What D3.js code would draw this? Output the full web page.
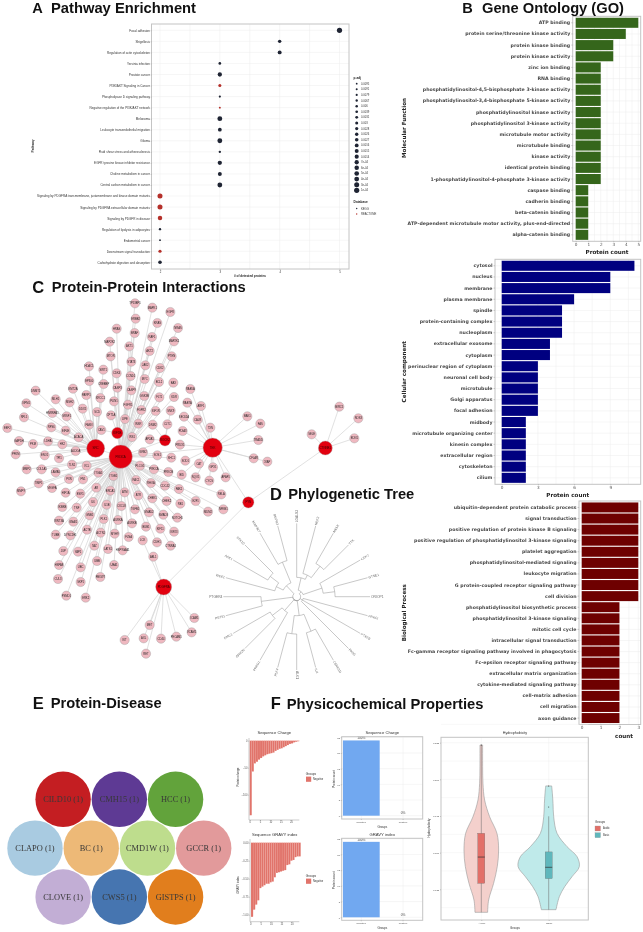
<!DOCTYPE html>
<html><head><meta charset="utf-8">
<script src="https://cdn.jsdelivr.net/npm/d3@7"></script>
<style>
html,body{margin:0;padding:0;background:#fff}
svg{display:block;filter:blur(0.3px);font-family:"Liberation Sans",Arial,sans-serif}
</style></head><body>
<svg id="c" width="643" height="932" xmlns="http://www.w3.org/2000/svg"></svg>
<script>
// ---------- A: pathway enrichment
const pathways=["Focal adhesion","Shigellosis","Regulation of actin cytoskeleton","Yersinia infection","Prostate cancer","PI3K/AKT Signaling in Cancer","Phospholipase D signaling pathway","Negative regulation of the PI3K/AKT network","Melanoma","Leukocyte transendothelial migration","Glioma","Fluid shear stress and atherosclerosis","EGFR tyrosine kinase inhibitor resistance","Choline metabolism in cancer","Central carbon metabolism in cancer","Signaling by PDGFRA transmembrane, juxtamembrane and kinase domain mutants","Signaling by PDGFRA extracellular domain mutants","Signaling by PDGFR in disease","Regulation of lipolysis in adipocytes","Endometrial cancer","Downstream signal transduction","Carbohydrate digestion and absorption"];
const pathwayCounts=[5,4,4,3,3,3,3,3,3,3,3,3,3,3,3,2,2,2,2,2,2,2];
const pathwayPadjRank=[19,9,12,5,14,7,2,1,17,11,17,3,14,12,17,18,18,15,3,0,8,10];
const pathwayDb=["KEGG","KEGG","KEGG","KEGG","KEGG","REACTOME","KEGG","REACTOME","KEGG","KEGG","KEGG","KEGG","KEGG","KEGG","KEGG","REACTOME","REACTOME","REACTOME","KEGG","KEGG","REACTOME","KEGG"];
const padjLegend=["0.0095","0.0091","0.0079","0.0067","0.006","0.0039","0.0031","0.003","0.0028","0.0026","0.0027","0.0016","0.0015","0.0014","7e-04","6e-04","5e-04","4e-04","3e-04","1e-04"];
const databases=["KEGG","REACTOME"];
const pathwayTicks=[2,3,4,5];
// ---------- B: gene ontology
const mfLabels=["ATP binding","protein serine/threonine kinase activity","protein kinase binding","protein kinase activity","zinc ion binding","RNA binding","phosphatidylinositol-4,5-bisphosphate 3-kinase activity","phosphatidylinositol-3,4-bisphosphate 5-kinase activity","phosphatidylinositol kinase activity","phosphatidylinositol 3-kinase activity","microtubule motor activity","microtubule binding","kinase activity","identical protein binding","1-phosphatidylinositol-4-phosphate 3-kinase activity","caspase binding","cadherin binding","beta-catenin binding","ATP-dependent microtubule motor activity, plus-end-directed","alpha-catenin binding"];
const mfValues=[5,4,3,3,2,2,2,2,2,2,2,2,2,2,2,1,1,1,1,1];
const ccLabels=["cytosol","nucleus","membrane","plasma membrane","spindle","protein-containing complex","nucleoplasm","extracellular exosome","cytoplasm","perinuclear region of cytoplasm","neuronal cell body","microtubule","Golgi apparatus","focal adhesion","midbody","microtubule organizing center","kinesin complex","extracellular region","cytoskeleton","cilium"];
const ccValues=[11,9,9,6,5,5,5,4,4,3,3,3,3,3,2,2,2,2,2,2];
const bpLabels=["ubiquitin-dependent protein catabolic process","signal transduction","positive regulation of protein kinase B signaling","positive regulation of phosphatidylinositol 3-kinase signaling","platelet aggregation","phosphatidylinositol-mediated signaling","leukocyte migration","G protein-coupled receptor signaling pathway","cell division","phosphatidylinositol biosynthetic process","phosphatidylinositol 3-kinase signaling","mitotic cell cycle","intracellular signal transduction","Fc-gamma receptor signaling pathway involved in phagocytosis","Fc-epsilon receptor signaling pathway","extracellular matrix organization","cytokine-mediated signaling pathway","cell-matrix adhesion","cell migration","axon guidance"];
const bpValues=[3,3,3,3,3,3,3,3,3,2,2,2,2,2,2,2,2,2,2,2];
// ---------- C: network (layout units of the drawing)
const hubNames=["PIK3CA","SRC","KIF5B","ROCK2","TEK","CTNNB1","FYN","PDGFRA"];
const hubLayout=[[362,560,35],[287,535,27],[352,489,17],[495,511,17],[638,533,29],[976,534,21],[745,697,17],[491,951,24]];
const hubLinks=[[0,1],[0,2],[0,3],[0,4],[4,6],[5,6],[6,7]];
const leaves0=[[405,100],[457,113],[511,126],[407,146],[472,159],[534,174],[350,176],[404,189],[456,201],[522,214],[329,215],[388,229],[449,243],[332,259],[515,259],[394,275],[436,286],[480,294],[350,310],[392,318],[434,327],[477,336],[520,338],[352,353],[394,361],[433,378],[478,382],[522,381],[384,404],[424,420],[467,423],[415,461],[396,501],[429,547],[472,556],[514,563],[420,587],[462,598],[505,606],[408,630],[453,639],[495,647],[537,657],[340,618],[295,608],[260,587],[216,584],[207,627],[249,628],[125,598],[167,607],[80,598],[63,664],[116,640],[156,654],[197,668],[241,671],[289,653],[331,662],[374,667],[415,676],[457,685],[500,693],[541,701],[587,693],[624,725],[670,718],[664,673],[187,711],[230,713],[279,696],[320,704],[364,708],[405,718],[447,727],[490,734],[532,743],[177,752],[220,755],[269,736],[311,747],[354,750],[396,760],[438,770],[481,776],[522,785],[167,794],[211,796],[261,779],[302,788],[344,791],[386,801],[471,817],[512,827],[190,843],[234,845],[283,827],[324,837],[368,841],[177,885],[242,892],[291,873],[342,885],[174,927],[242,936],[301,921],[199,977],[257,983]];
const leaves1=[[267,289],[310,299],[268,333],[311,342],[219,356],[107,362],[259,375],[301,384],[167,388],[209,397],[79,400],[248,416],[157,429],[200,439],[72,442],[154,472],[197,482],[22,474],[57,513],[99,522],[144,514],[187,523],[47,553],[134,556],[177,565],[227,543],[236,502],[267,464],[291,426]];
const leaves2=[[333,436],[375,447],[342,394],[304,480]];
const leaves3=[[502,463],[449,508],[458,464],[512,422]];
const leaves4=[[571,357],[562,398],[603,408],[552,440],[593,449],[548,483],[631,473],[540,524],[556,572],[597,581],[639,592],[587,622],[628,632],[677,622],[545,614],[742,439],[781,461],[775,510],[761,565],[802,575]];
const leaves5=[[1018,410],[1075,445],[1063,505],[935,493]];
const leaves6=[];
const leaves7=[[583,1044],[575,1087],[529,1100],[483,1106],[449,1065],[431,1105],[374,1110],[438,1151],[460,860],[428,811]];
const geneNames=("TP53BP1 MAPK1 EGFR ERBB2 KRAS NRAS HRAS BRAF RAF1 MAP2K1 MAP2K2 AKT1 AKT2 MTOR PTEN STAT3 JAK2 CDK2 CDK4 CCND1 MYC BCL2 BAX CASP3 CASP9 GSK3B FLT1 KDR FGFR1 FGFR2 IGF1R INSR IRS1 GRB2 SOS1 SHC1 PLCG1 PRKCA PRKCB RAC1 RHOA CDC42 PAK1 ITGB1 ITGA5 VCL TLN1 PXN FN1 COL1A1 LAMA5 MMP2 MMP9 TIMP1 VEGFA HIF1A ESR1 AR BRCA1 ATM ATR CHEK1 CHEK2 RB1 E2F1 MDM2 NFKB1 RELA IKBKB TNF IL6 IL1B CXCL8 TGFB1 SMAD2 SMAD3 NOTCH1 WNT3A GNAI1 GNB1 PLK1 AURKA AURKB BUB1 KIF11 KIF23 TUBB DYNC1H1 ACTB ACTN1 MYH9 FLNA CDH1 CTNNA1 JUP YAP1 TAZ LATS1 HSP90AA1 HSPA8 UBC UBB UBA1 CUL3 SKP1 FBXW7 PSMD1 ERK2 HDAC1 SIRT1 EP300 CREBBP KMT2A DNMT1 PARP1 XRCC1 MLH1 MSH2 NPM1 DDX5 HNRNPA1 SRSF1 RPL5 RPS6 EIF4E EEF2 GAPDH PKM LDHA HK2 PFKM ENO1 TPI1 ALDOA ACACA FASN SCD CPT1A LIPE PLIN1 CAV1 CLTC AP2A1 DNM2 SNX9 RAB5A RAB7A ARF1 SEC61A CALR PDIA3 TXN PRDX1 SOD1 CAT GPX1 NQO1 CYCS APAF1 BID BAK1 FAS TRADD CFLAR XIAP BIRC5 NOS3 EDN1 SELE ICAM1 VCAM1 PECAM1 CD44 MET AXL KIT RET ABL1 LCK ZAP70 SYK BTK PIK3R1 PIK3CB PIK3CD GAB1 CBL PTPN11").split(" ");
// ---------- D: phylogenetic tree (node depth as radial distance)
const treeTips=["LGALS3","NEK2","MELK","TTK","CDK7","GTSE1","ORIOP1","PRKCI","PTK2B","PKN1","CSNK1D","ILK","ALK1","PLK4","PRKG1","GRK2N","DMC1","PST51","PTGER4","WEE1","AAK1","STK10","MAP3K7","BMPR2"];
const treeNodeDepth={root:12,g1:20,n1:58,n2:72,n3:115,n4:80,n5:115,g2:20,g3:57,n6:112,n7:112,g4:55,n8:92,g5:30,n9:107,g6:45,n10:68,n11:100,n12:112};
const treeShape={id:"root",children:[
 {id:"g1",children:[{id:"n1",children:[0,{id:"n2",children:[1,{id:"n3",children:[2,3]}]}]},{id:"n4",children:[4,{id:"n5",children:[5,6]}]}]},
 {id:"g2",children:[7,8,9]},
 {id:"g3",children:[{id:"n6",children:[10,11]},{id:"n7",children:[12,13]}]},
 {id:"g4",children:[14,{id:"n8",children:[15,16]}]},
 {id:"g5",children:[{id:"n9",children:[17,18]}]},
 {id:"g6",children:[{id:"n10",children:[19,{id:"n11",children:[20,21]}]},{id:"n12",children:[22,23]}]}
]};
// ---------- E: protein-disease
const diseases=["CILD10 (1)","CMH15 (1)","HCC (1)","CLAPO (1)","BC (1)","CMD1W (1)","GCCR (1)","CLOVE (1)","CWS5 (1)","GISTPS (1)"];
const diseaseColors=["#c41e22","#5e3a94","#62a33b","#a9cbe1","#edb977","#bedd8d","#e29a9b","#c2aed5","#4675b0","#e17e1d"];
const diseaseRows=[3,4,3];
// ---------- F: physicochemical
const chargeValues=[-138,-57,-42,-39,-35,-32,-29,-27,-25,-24,-23,-22,-19,-17,-15,-14,-12,-10,-8,-6,-5,-3,-2,-1];
const gravyValues=[-1.03,-0.93,-0.86,-0.80,-0.63,-0.61,-0.59,-0.57,-0.57,-0.55,-0.54,-0.48,-0.42,-0.41,-0.40,-0.39,-0.38,-0.31,-0.30,-0.25,-0.24,-0.20,-0.19,-0.19];
const signGroups=["Negative","Positive"];
const signCounts=[24,0];
const signPercents=["100%","0%"];
const violinGroups=["Acidic","Basic"];
const acidicHydro=[0.2234,0.2086,0.1973,0.1859,0.1745,0.1632,0.1518,0.1405,0.1291,0.1177,0.1093];
const acidicDensity=[4,4,5,10,25,47,52,48,37,22,19];
const basicHydro=[0.1955,0.1905,0.1836,0.1745,0.1632,0.1541,0.1473,0.1405,0.1336,0.1268,0.1200,0.1111];
const basicDensity=[9,11,13,15,25,55,85,92,70,48,32,22];
const acidicBox=[0.1093,0.1291,0.1470,0.1632,0.2234];
const basicBox=[0.1111,0.1323,0.1400,0.1505,0.1748];
const basicOutliers=[0.1955,0.1811];
const hydroTicks=[0.125,0.150,0.175,0.200,0.225];

const svg=d3.select("#c");
svg.append("rect").attr("width",643).attr("height",932).attr("fill","#fff");
const BORDER="#c4c4c4",GRID="#ededed",SANS='"Liberation Sans",Arial,sans-serif',DJ='"DejaVu Sans",sans-serif';

function title(letter,lx,text,tx,base,w,ls,lb){
  svg.append("text").attr("x",lx).attr("y",lb||base+.3).attr("font-size",ls||16.5).attr("font-weight","bold").attr("fill","#111").text(letter);
  svg.append("text").attr("x",tx).attr("y",base).attr("font-size",14.7).attr("font-weight","bold").attr("fill","#111")
    .attr("textLength",w).attr("lengthAdjust","spacingAndGlyphs").text(text);
}
function styleAxis(g,size,col,font){
  g.selectAll("path.domain").remove();
  g.selectAll("line").attr("stroke","#888").attr("stroke-width",.4);
  g.selectAll("text").attr("font-size",size).attr("fill",col||"#555").attr("font-family",font||SANS);
}
function frame(g,b){
  g.append("rect").attr("x",b.x0).attr("y",b.y0).attr("width",b.x1-b.x0).attr("height",b.y1-b.y0)
    .attr("fill","none").attr("stroke",BORDER).attr("stroke-width",1);
}
function rotText(x,y,str,size,weight,col){
  svg.append("text").attr("transform",`translate(${x},${y}) rotate(-90)`).attr("text-anchor","middle")
   .attr("font-size",size).attr("font-weight",weight||"normal").attr("fill",col||"#333").text(str);
}

// ===== A =====
(function(){
  const b={x0:151.5,x1:349,y0:24,y1:269};
  const x=d3.scaleLinear().domain([2,5]).range([160,339.5]);
  const y=d3.scalePoint().domain(pathways).range([30.3,262.3]);
  const r=d3.scaleLinear().domain([0,19]).range([.9,2.6]);
  const c=d3.scaleOrdinal().domain(databases).range(["#1f2433","#b5302a"]);
  const g=svg.append("g");
  const vt=d3.range(2,5.01,.5);
  g.selectAll("line.v").data(vt).join("line").attr("x1",d=>x(d)).attr("x2",d=>x(d)).attr("y1",b.y0).attr("y2",b.y1).attr("stroke",GRID).attr("stroke-width",.5);
  g.selectAll("line.h").data(pathways).join("line").attr("class","h").attr("x1",b.x0).attr("x2",b.x1).attr("y1",d=>y(d)).attr("y2",d=>y(d)).attr("stroke",GRID).attr("stroke-width",.5);
  frame(g,b);
  g.selectAll("circle").data(pathways).join("circle").attr("cx",(d,i)=>x(pathwayCounts[i])).attr("cy",d=>y(d))
    .attr("r",(d,i)=>r(pathwayPadjRank[i])).attr("fill",(d,i)=>c(pathwayDb[i]));
  const ay=svg.append("g").attr("transform",`translate(${b.x0},0)`).call(d3.axisLeft(y).tickSize(1).tickPadding(.5));
  styleAxis(ay,3.05,"#333");
  const ax=svg.append("g").attr("transform",`translate(0,${b.y1})`).call(d3.axisBottom(x).tickValues(pathwayTicks).tickSize(1).tickPadding(.8).tickFormat(d3.format("d")));
  styleAxis(ax,2.8,"#333");
  rotText(34,146,"Pathway",3.2,"bold");
  svg.append("text").attr("x",250).attr("y",276.8).attr("text-anchor","middle").attr("font-size",3.1).attr("font-weight","bold").attr("fill","#222").text("# of detected proteins");
  // legend
  const ly=d3.scalePoint().domain(padjLegend.map((d,i)=>i)).range([83.7,190.3]);
  svg.append("text").attr("x",353.6).attr("y",78.8).attr("font-size",3.2).attr("font-weight","bold").attr("fill","#222").text("p.adj");
  const lg=svg.append("g");
  lg.selectAll("circle").data(padjLegend).join("circle").attr("cx",356.7).attr("cy",(d,i)=>ly(i)).attr("r",(d,i)=>r(i)).attr("fill","#1f2433");
  lg.selectAll("text").data(padjLegend).join("text").attr("x",361).attr("y",(d,i)=>ly(i)+1).attr("font-size",2.7).attr("fill","#333").text(d=>d);
  svg.append("text").attr("x",353.6).attr("y",203.3).attr("font-size",3.2).attr("font-weight","bold").attr("fill","#222").text("Database");
  const dy=d3.scalePoint().domain(databases).range([208.5,214]);
  lg.selectAll("circle.d").data(databases).join("circle").attr("class","d").attr("cx",356.7).attr("cy",d=>dy(d)).attr("r",.7).attr("fill",d=>c(d));
  lg.selectAll("text.d").data(databases).join("text").attr("class","d").attr("x",361).attr("y",d=>dy(d)+1).attr("font-size",2.7).attr("fill","#333").text(d=>d);
})();

// ===== B / GO bars =====
function barPanel(o){
  const x=d3.scaleLinear().domain([0,o.refValue]).range([o.zeroX,o.refX]);
  const y=d3.scaleBand().domain(o.labels).range([o.b.y0+.9,o.b.y1-.9]).paddingInner(.1).paddingOuter(.05);
  const g=svg.append("g");
  g.append("rect").attr("x",o.b.x0).attr("y",o.b.y0).attr("width",o.b.x1-o.b.x0).attr("height",o.b.y1-o.b.y0).attr("fill","#fff");
  g.selectAll("line.v").data(o.grid).join("line").attr("class","v").attr("x1",d=>x(d)).attr("x2",d=>x(d)).attr("y1",o.b.y0).attr("y2",o.b.y1).attr("stroke",GRID).attr("stroke-width",.5);
  g.selectAll("line.h").data(o.labels).join("line").attr("class","h").attr("x1",o.b.x0).attr("x2",o.b.x1).attr("y1",d=>y(d)+y.bandwidth()/2).attr("y2",d=>y(d)+y.bandwidth()/2).attr("stroke",GRID).attr("stroke-width",.5);
  g.selectAll("rect.bar").data(o.labels).join("rect").attr("class","bar").attr("x",x(0)).attr("y",d=>y(d)).attr("height",y.bandwidth())
    .attr("width",(d,i)=>x(o.values[i])-x(0)).attr("fill",o.color);
  frame(g,o.b);
  const ay=svg.append("g").attr("transform",`translate(${o.b.x0},0)`).call(d3.axisLeft(y).tickSize(1.5).tickPadding(1));
  styleAxis(ay,o.fs||4.7,"#4a4a4a",DJ);
  ay.selectAll("text").attr("font-weight","bold");
  const ax=svg.append("g").attr("transform",`translate(0,${o.b.y1})`).call(d3.axisBottom(x).tickValues(o.ticks).tickFormat(d3.format("d")).tickSize(1.2).tickPadding(.6));
  styleAxis(ax,4.2,"#555",DJ);
  svg.append("text").attr("x",o.titleX).attr("y",o.titleY).attr("text-anchor","middle").attr("font-family",DJ).attr("font-size",5.6).attr("font-weight","bold").attr("fill","#222").text("Protein count");
  svg.append("text").attr("transform",`translate(${o.ylabX},${o.ylabY}) rotate(-90)`).attr("text-anchor","middle").attr("font-family",DJ).attr("font-size",5.6).attr("font-weight","bold").attr("fill","#222").text(o.ylab);
}
barPanel({labels:mfLabels,values:mfValues,color:"#35661b",b:{x0:572.7,x1:640.7,y0:16.3,y1:241.3},zeroX:575.7,refValue:5,refX:638.3,grid:d3.range(0,5.1,.5),ticks:[0,1,2,3,4,5],titleX:607,titleY:253.5,ylab:"Molecular Function",ylabX:406,ylabY:128});
barPanel({labels:ccLabels,values:ccValues,color:"#000080",b:{x0:495,x1:640.7,y0:259.3,y1:484.3},zeroX:501.7,refValue:9,refX:610.3,grid:d3.range(0,12,1.5),ticks:[0,3,6,9],titleX:567.7,titleY:496.8,ylab:"Cellular component",ylabX:406,ylabY:371.7});
barPanel({labels:bpLabels,values:bpValues,color:"#6e0000",b:{x0:579,x1:640.7,y0:501,y1:724.5},zeroX:581.7,refValue:3,refX:638.3,grid:d3.range(0,3.1,.5),ticks:[0,1,2,3],titleX:611.5,titleY:738,ylab:"Biological Process",ylabX:406,ylabY:612.7});

// ===== C network =====
(function(){
  const px=d3.scaleLinear().domain([0,720]).range([0,240]);
  const py=d3.scaleLinear().domain([0,660]).range([270,490]);
  const hubs=hubLayout.map((h,i)=>({name:hubNames[i],u:h[0],v:h[1],rad:h[2]}));
  const groups=[leaves0,leaves1,leaves2,leaves3,leaves4,leaves5,leaves6,leaves7];
  let k=0;const nodes=[];
  groups.forEach((g,h)=>g.forEach(p=>{nodes.push({name:geneNames[k%geneNames.length],u:p[0],v:p[1],hub:h});k++;}));
  const g=svg.append("g");
  g.selectAll("line.l").data(nodes).join("line").attr("class","l")
    .attr("x1",d=>px(d.u)).attr("y1",d=>py(d.v)).attr("x2",d=>px(hubs[d.hub].u)).attr("y2",d=>py(hubs[d.hub].v))
    .attr("stroke","#d4d4d4").attr("stroke-width",.7);
  g.selectAll("line.hl").data(hubLinks).join("line").attr("class","hl")
    .attr("x1",d=>px(hubs[d[0]].u)).attr("y1",d=>py(hubs[d[0]].v)).attr("x2",d=>px(hubs[d[1]].u)).attr("y2",d=>py(hubs[d[1]].v))
    .attr("stroke","#d4d4d4").attr("stroke-width",.7);
  g.selectAll("circle.n").data(nodes).join("circle").attr("class","n").attr("cx",d=>px(d.u)).attr("cy",d=>py(d.v)).attr("r",4.6)
    .attr("fill","#efb8c0").attr("stroke","#9a9a9a").attr("stroke-width",.4);
  g.selectAll("circle.h").data(hubs).join("circle").attr("class","h").attr("cx",d=>px(d.u)).attr("cy",d=>py(d.v)).attr("r",d=>d.rad/3)
    .attr("fill","#e2000f").attr("stroke","#a8a8a8").attr("stroke-width",.4);
  g.selectAll("text.n").data(nodes).join("text").attr("class","n").attr("x",d=>px(d.u)).attr("y",d=>py(d.v)+.9).attr("text-anchor","middle").attr("font-size",2.7).attr("fill","#222").text(d=>d.name);
  g.selectAll("text.h").data(hubs).join("text").attr("class","h").attr("x",d=>px(d.u)).attr("y",d=>py(d.v)+.9).attr("text-anchor","middle").attr("font-size",2.9).attr("fill","#300").text(d=>d.name);
})();

// ===== D tree =====
(function(){
  const toNode=n=>typeof n==="number"?{tip:n}:n;
  const root=d3.hierarchy(treeShape,d=>d.children?d.children.map(toNode):null);
  d3.cluster().size([360,1]).separation(()=>1)(root);
  const step=360/treeTips.length;
  const rs=d3.scaleLinear().domain([0,240]).range([0,80]);
  const tipDepth=220;
  const depth=d=>d.data.tip!==undefined?tipDepth:treeNodeDepth[d.data.id];
  const ang=d=>d.x-step/2;
  const pt=(a,r)=>{const t=(a-90)*Math.PI/180;return [296.7+rs(r)*Math.cos(t),596.7+rs(r)*Math.sin(t)];};
  const g=svg.append("g");
  g.selectAll("path").data(root.links()).join("path").attr("fill","none").attr("stroke","#9a9a9a").attr("stroke-width",.55).attr("d",l=>{
    const pa=ang(l.source),ca=ang(l.target),pr=depth(l.source),cr=depth(l.target);
    const a0=pt(pa,pr),a1=pt(ca,pr),e=pt(ca,cr),R=rs(pr);
    return `M${a0}A${R},${R} 0 0 ${ca>pa?1:0} ${a1}L${e}`;
  });
  g.selectAll("text").data(root.leaves()).join("text").attr("font-size",3.3).attr("fill","#6a6a6a")
    .attr("transform",d=>{
      const a=ang(d);const p=pt(a,tipDepth+3);
      const flip=a>180;
      return `translate(${p}) rotate(${flip?a+90:a-90})`;
    }).attr("text-anchor",d=>ang(d)>180?"end":"start").attr("dy",1.1)
    .text(d=>treeTips[d.data.tip]);
})();

// ===== white background of panel F's violin overlaps the lower bar panel =====
svg.append("rect").attr("x",425).attr("y",730).attr("width",189).attr("height",202).attr("fill","#fff");

// ===== E =====
(function(){
  const x=d3.scaleLinear().domain([0,3]).range([35,203.7]);
  const y=d3.scalePoint().domain(diseaseRows.map((d,i)=>i)).range([799.3,897]);
  const nodes=[];let k=0;
  diseaseRows.forEach((n,row)=>{for(let c=0;c<n;c++){nodes.push({name:diseases[k],color:diseaseColors[k],x:x(c+(4-n)/2),y:y(row)});k++;}});
  const g=svg.append("g");
  g.selectAll("circle").data(nodes).join("circle").attr("cx",d=>d.x).attr("cy",d=>d.y).attr("r",27.7).attr("fill",d=>d.color);
  g.selectAll("text").data(nodes).join("text").attr("x",d=>d.x).attr("y",d=>d.y+2.7).attr("text-anchor","middle")
    .attr("font-family",'"Liberation Serif",serif').attr("font-size",8.4).attr("fill","#383838").text(d=>d.name);
})();

// ===== F ranked bars =====
function rankPanel(o){
  const x=d3.scaleLinear().domain([0,20]).range(o.xr);
  const y=d3.scaleLinear().domain(o.yd).range(o.yr);
  const g=svg.append("g");
  g.selectAll("rect").data(o.values).join("rect").attr("x",(d,i)=>x(i)+o.off).attr("y",y(0)).attr("width",x(1)-x(0))
    .attr("height",d=>y(d)-y(0)).attr("fill","#e1746b").attr("stroke","#f3b8b3").attr("stroke-width",.15);
  const ay=svg.append("g").attr("transform",`translate(${o.left},0)`).call(d3.axisLeft(y).tickValues(o.yt).tickSize(1).tickPadding(.6).tickFormat(o.fmt));
  styleAxis(ay,2.6,"#555");
  const ax=svg.append("g").attr("transform",`translate(0,${o.bottom})`).call(d3.axisBottom(x).tickValues([0,5,10,15,20]).tickSize(1).tickPadding(.6));
  styleAxis(ax,2.6,"#555");
  svg.append("line").attr("x1",o.left).attr("x2",o.left).attr("y1",o.top).attr("y2",o.bottom).attr("stroke","#aaa").attr("stroke-width",.6);
  svg.append("line").attr("x1",o.left).attr("x2",o.right).attr("y1",o.bottom).attr("y2",o.bottom).attr("stroke","#aaa").attr("stroke-width",.6);
  svg.append("text").attr("x",o.tx).attr("y",o.ty).attr("text-anchor","middle").attr("font-size",4.2).attr("fill","#333").text(o.title);
  rotText(238.6,o.ly,o.ylab,2.9,"normal","#333");
  svg.append("text").attr("x",305.7).attr("y",o.lg).attr("font-size",3.2).attr("fill","#333").text("Groups");
  svg.append("rect").attr("x",306).attr("y",o.lg+1.6).attr("width",5.2).attr("height",5.2).attr("fill","#e1746b");
  svg.append("text").attr("x",313).attr("y",o.lg+5.2).attr("font-size",2.6).attr("fill","#333").text("Negative");
}
rankPanel({values:chargeValues,xr:[249.7,291],yd:[0,-100],yr:[740.7,794.7],yt:[0,-50,-100],fmt:d3.format("d"),off:0,left:249,right:299.3,top:738,bottom:820,tx:274.3,ty:734,title:"Sequence Charge",ylab:"Protein charge",ly:777,lg:775});
rankPanel({values:gravyValues,xr:[250.3,291.7],yd:[0,-1],yr:[842.7,914.7],yt:[0,-.25,-.5,-.75,-1],fmt:d3.format(".2f"),off:.7,left:250,right:299.3,top:839,bottom:921.7,tx:274.7,ty:835.5,title:"Sequence GRAVY index",ylab:"GRAVY index",ly:885,lg:877});

// ===== F percent bars =====
function signPanel(o){
  const x=d3.scaleBand().domain(signGroups).range([o.x0,o.x1]).paddingInner(.12).paddingOuter(.03);
  const y=d3.scaleLinear().domain([0,25]).range(o.yr);
  const g=svg.append("g");
  y.ticks(5).forEach(t=>{g.append("line").attr("x1",o.x0).attr("x2",o.x1).attr("y1",y(t)).attr("y2",y(t)).attr("stroke",GRID).attr("stroke-width",.5);});
  signGroups.forEach(s=>{g.append("line").attr("x1",x(s)+x.bandwidth()/2).attr("x2",x(s)+x.bandwidth()/2).attr("y1",o.y0).attr("y2",o.y1).attr("stroke",GRID).attr("stroke-width",.5);});
  g.selectAll("rect.b").data(signGroups).join("rect").attr("class","b").attr("x",d=>x(d)).attr("width",x.bandwidth())
    .attr("y",(d,i)=>y(signCounts[i])).attr("height",(d,i)=>y(0)-y(signCounts[i])).attr("fill","#71a8f0");
  g.selectAll("text.p").data(signGroups).join("text").attr("class","p").attr("x",d=>x(d)+x.bandwidth()/2)
    .attr("y",(d,i)=>y(signCounts[i])-1.3).attr("text-anchor","middle").attr("font-size",3.2).attr("fill","#444").text((d,i)=>signPercents[i]);
  frame(g,{x0:o.x0,x1:o.x1,y0:o.y0,y1:o.y1});
  const ay=svg.append("g").attr("transform",`translate(${o.x0},0)`).call(d3.axisLeft(y).tickValues([0,5,10,15,20,25]).tickSize(1).tickPadding(.6));
  styleAxis(ay,2.5,"#555");
  const ax=svg.append("g").attr("transform",`translate(0,${o.y1})`).call(d3.axisBottom(x).tickSize(1).tickPadding(.8));
  styleAxis(ax,2.5,"#555");
  svg.append("text").attr("x",382.3).attr("y",o.ty).attr("text-anchor","middle").attr("font-size",4.2).attr("fill","#333").text(o.title);
  svg.append("text").attr("x",382.3).attr("y",o.y1+9).attr("text-anchor","middle").attr("font-size",3).attr("fill","#333").text("Groups");
  rotText(335.2,(o.y0+o.y1)/2+1,"Protein count",3,"normal","#333");
}
signPanel({x0:341.7,x1:422.7,y0:736.7,y1:819,yr:[815.7,737.3],ty:734,title:"Sequence Charge"});
signPanel({x0:341.7,x1:422.7,y0:838.3,y1:920.3,yr:[917.3,838.7],ty:835.5,title:"GRAVY index"});

// ===== F violin =====
(function(){
  const b={x0:441,x1:588.3,y0:737.3,y1:920};
  const x=d3.scalePoint().domain(violinGroups).range([481.3,548.7]);
  const y=d3.scaleLinear().domain([0.125,0.225]).range([889.3,742.7]);
  const w=d3.scaleLinear().domain([0,100]).range([0,33.3]);
  const g=svg.append("g");
  d3.range(0.1125,0.2376,0.0125).forEach(t=>{g.append("line").attr("x1",b.x0).attr("x2",b.x1).attr("y1",y(t)).attr("y2",y(t)).attr("stroke",GRID).attr("stroke-width",.4);});
  violinGroups.forEach(s=>{g.append("line").attr("x1",x(s)).attr("x2",x(s)).attr("y1",b.y0).attr("y2",b.y1).attr("stroke",GRID).attr("stroke-width",.4);});
  frame(g,b);
  const sets=[
    {n:"Acidic",h:acidicHydro,d:acidicDensity,bx:acidicBox,fill:"#f4d0cc",box:"#e26f68"},
    {n:"Basic",h:basicHydro,d:basicDensity,bx:basicBox,fill:"#bfeaea",box:"#5fb7bc"}];
  sets.forEach(s=>{
    const cx=x(s.n);
    const area=d3.area().curve(d3.curveCatmullRom).y(i=>y(s.h[i])).x0(i=>cx-w(s.d[i])).x1(i=>cx+w(s.d[i]));
    g.append("path").attr("d",area(d3.range(s.h.length))).attr("fill",s.fill).attr("stroke","#999").attr("stroke-width",.6);
    g.append("line").attr("x1",cx).attr("x2",cx).attr("y1",y(s.bx[4])).attr("y2",y(s.bx[0])).attr("stroke","#666").attr("stroke-width",.5);
    g.append("rect").attr("x",cx-3.5).attr("width",7).attr("y",y(s.bx[3])).attr("height",y(s.bx[1])-y(s.bx[3])).attr("fill",s.box).attr("stroke","#666").attr("stroke-width",.3);
    g.append("line").attr("x1",cx-3.5).attr("x2",cx+3.5).attr("y1",y(s.bx[2])).attr("y2",y(s.bx[2])).attr("stroke","#333").attr("stroke-width",.7);
  });
  g.append("circle").attr("cx",x("Acidic")).attr("cy",y(acidicBox[4])).attr("r",.5).attr("fill","#333");
  g.selectAll("circle.o").data(basicOutliers).join("circle").attr("class","o").attr("cx",x("Basic")).attr("cy",d=>y(d)).attr("r",.5).attr("fill","#333");
  const ay=svg.append("g").attr("transform",`translate(${b.x0},0)`).call(d3.axisLeft(y).tickValues(hydroTicks).tickFormat(d3.format(".3f")).tickSize(1).tickPadding(.8));
  styleAxis(ay,2.5,"#555");
  const ax=svg.append("g").attr("transform",`translate(0,${b.y1})`).call(d3.axisBottom(x).tickSize(1).tickPadding(.8));
  styleAxis(ax,2.5,"#555");
  svg.append("text").attr("x",515).attr("y",734).attr("text-anchor","middle").attr("font-size",3.7).attr("fill","#333").text("Hydrophobicity");
  svg.append("text").attr("x",515).attr("y",929).attr("text-anchor","middle").attr("font-size",3).attr("fill","#333").text("Groups");
  rotText(429.7,828,"Hydrophobicity",2.9,"normal","#333");
  svg.append("text").attr("x",595).attr("y",823).attr("font-size",3.1).attr("fill","#333").text("Groups");
  const ly=d3.scalePoint().domain(violinGroups).range([826,832.7]);
  violinGroups.forEach((s,i)=>{
    svg.append("rect").attr("x",595).attr("y",ly(s)).attr("width",5.5).attr("height",5).attr("fill",sets[i].box).attr("stroke","#999").attr("stroke-width",.3);
    svg.append("text").attr("x",603).attr("y",ly(s)+3.4).attr("font-size",2.6).attr("fill","#333").text(s);
  });
})();

title("A",32.3,"Pathway Enrichment",51,13.3,145,14.6,13.3);
title("B",462.3,"Gene Ontology (GO)",482,13.3,142,14.6,13.3);
title("C",32.3,"Protein-Protein Interactions",51.7,292.3,194);
title("D",270,"Phylogenetic Tree",288.3,499.3,126);
title("E",32.7,"Protein-Disease",50.7,708.3,111);
title("F",270.7,"Physicochemical Properties",286.7,709,196.7);
</script>
</body></html>
